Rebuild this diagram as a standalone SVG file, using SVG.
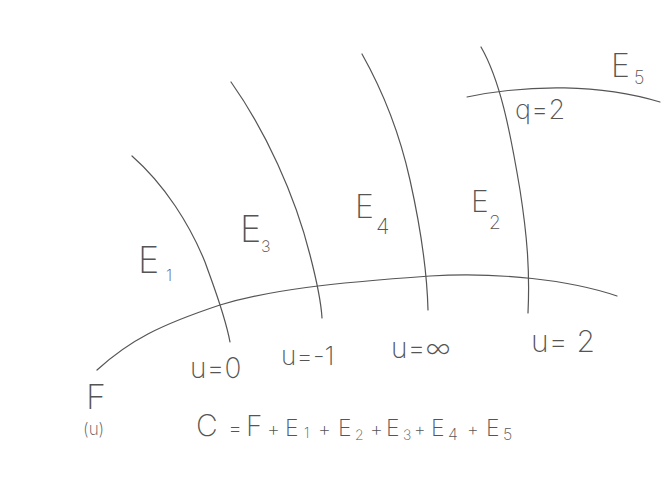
<svg xmlns="http://www.w3.org/2000/svg" width="671" height="477" viewBox="0 0 671 477">
<style>
.c{fill:none;stroke:#555;stroke-width:1.2;stroke-linecap:round}
text{font-family:Inter,"Liberation Sans",sans-serif;font-weight:200;fill:#555}
</style>
<rect width="671" height="477" fill="#fff"/>
<g id="connectors">
<path id="F" class="c" d="M97,370 C130,340 160,325 220,305 C270,290 330,283 430,276 C500,272 570,280 617,296"/>
<path id="E1" class="c" d="M132,156 C165,185 190,225 205,262 C215,290 225,315 230,342"/>
<path id="E3" class="c" d="M231,82 C265,130 295,195 310,255 C317,282 321,300 322,318"/>
<path id="E4" class="c" d="M362,54 C385,95 400,135 410,180 C420,225 427,270 428,310"/>
<path id="E2" class="c" d="M481,47 C500,80 510,130 520,190 C527,235 530,270 528,313"/>
<path id="E5" class="c" d="M467,97 C530,84 600,84 660,102"/>
</g>
<g id="labels">
<text x="138" y="273" font-size="36">E</text><text x="166" y="281" font-size="16">1</text>
<text x="240" y="242" font-size="36">E</text><text x="261" y="252" font-size="16">3</text>
<text x="355" y="218" font-size="32">E</text><text x="376" y="234" font-size="22">4</text>
<text x="471" y="212" font-size="30">E</text><text x="489" y="229" font-size="19">2</text>
<text x="611" y="77" font-size="32">E</text><text x="634" y="84" font-size="18">5</text>
<text x="515" y="119" font-size="27">q=2</text>
<text x="190" y="378" font-size="28">u=0</text>
<text x="281" y="365" font-size="26">u=-1</text>
<text x="391" y="358" font-size="28">u=∞</text>
<text x="531" y="352" font-size="30">u= 2</text>
<text x="86" y="409" font-size="34">F</text>
<text x="83" y="435" font-size="17">(u)</text>
</g>
<g id="equation">
<text y="436" font-size="30"><tspan x="196">C</tspan><tspan x="228" font-size="22">=</tspan><tspan x="246" font-size="28">F</tspan><tspan x="267" font-size="20">+</tspan><tspan x="285" font-size="23">E</tspan><tspan x="304" y="438" font-size="14">1</tspan><tspan x="318" y="436" font-size="20">+</tspan><tspan x="338" font-size="23">E</tspan><tspan x="355" y="440" font-size="14">2</tspan><tspan x="370" y="436" font-size="20">+</tspan><tspan x="386" font-size="23">E</tspan><tspan x="403" y="440" font-size="14">3</tspan><tspan x="414" y="436" font-size="18">+</tspan><tspan x="431" font-size="23">E</tspan><tspan x="448" y="440" font-size="16">4</tspan><tspan x="467" y="436" font-size="18">+</tspan><tspan x="486" font-size="23">E</tspan><tspan x="503" y="440" font-size="16">5</tspan></text>
</g>
</svg>
